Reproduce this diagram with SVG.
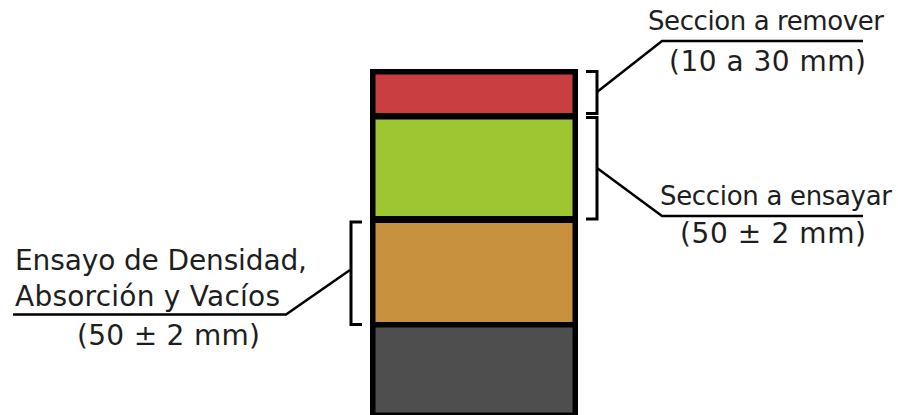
<svg xmlns="http://www.w3.org/2000/svg" width="898" height="415" viewBox="0 0 898 415">
  <style>
    .lbl { font-family: "DejaVu Sans", Verdana, sans-serif; font-size: 26px; fill: #1e1e1e; }
    .big { font-size: 28px; }
    .lead { fill: none; stroke: #000; stroke-width: 2.5; stroke-linejoin: miter; }
    .brk { fill: none; stroke: #000; stroke-width: 3; }
  </style>
  <rect width="898" height="415" fill="#fff"/>

  <!-- Specimen core with its layers -->
  <g id="core">
    <rect x="370" y="69" width="208" height="346" fill="#000"/>
    <rect id="layer-remove" x="375.5" y="74.5" width="197" height="38.5" fill="#c93f40"/>
    <rect id="layer-test" x="375.5" y="119.5" width="197" height="96.5" fill="#9dc630"/>
    <rect id="layer-density" x="375.5" y="223" width="197" height="99" fill="#c7913e"/>
    <rect id="layer-base" x="375.5" y="327.5" width="197" height="85" fill="#4e4e4e"/>
  </g>

  <!-- Brackets and leader lines -->
  <g id="connectors">
    <path class="brk" d="M586,71.5 H597 V113.5 H586"/>
    <path class="brk" d="M586,117.5 H597 V219 H586"/>
    <path class="brk" d="M362,222 H351 V324.5 H362"/>
    <path class="lead" d="M597,92 L662,41 H863"/>
    <path class="lead" d="M597,168 L662,216 H863"/>
    <path class="lead" d="M350,270 L286,314.5 H13"/>
  </g>

  <g id="label-remove">
    <text class="lbl" x="648" y="29.5" textLength="236" lengthAdjust="spacing">Seccion a remover</text>
    <text class="lbl big" x="669" y="71" textLength="197" lengthAdjust="spacing">(10 a 30 mm)</text>
  </g>

  <g id="label-test">
    <text class="lbl" x="660" y="204.5" textLength="232" lengthAdjust="spacing">Seccion a ensayar</text>
    <text class="lbl big" x="680" y="243" textLength="186" lengthAdjust="spacing">(50 ± 2 mm)</text>
  </g>

  <g id="label-density">
    <text class="lbl big" x="15" y="270" textLength="292" lengthAdjust="spacing">Ensayo de Densidad,</text>
    <text class="lbl big" x="15" y="306" textLength="265" lengthAdjust="spacing">Absorción y Vacíos</text>
    <text class="lbl big" x="77" y="345" textLength="183" lengthAdjust="spacing">(50 ± 2 mm)</text>
  </g>
</svg>
